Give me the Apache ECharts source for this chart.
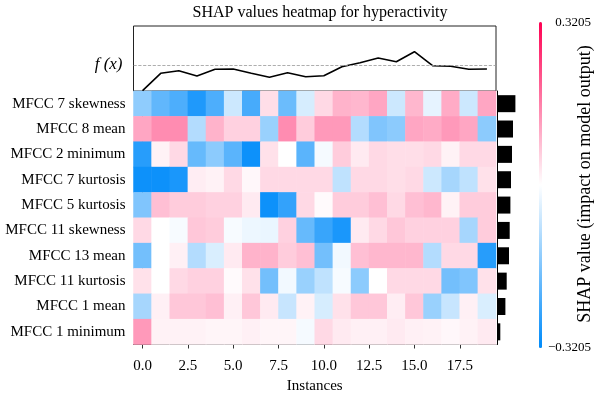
<!DOCTYPE html>
<html><head><meta charset="utf-8">
<script src="https://cdn.jsdelivr.net/npm/echarts@6/dist/echarts.min.js"></script>
<style>html,body{margin:0;padding:0;background:#fff}#c{width:600px;height:394px}</style>
</head><body><div id="c"></div>
<script>
const titleText = 'SHAP values heatmap for hyperactivity';
const features = ['MFCC 7 skewness','MFCC 8 mean','MFCC 2 minimum','MFCC 7 kurtosis','MFCC 5 kurtosis',
  'MFCC 11 skewness','MFCC 13 mean','MFCC 11 kurtosis','MFCC 1 mean','MFCC 1 minimum'];
const instances = [0,1,2,3,4,5,6,7,8,9,10,11,12,13,14,15,16,17,18,19];
const xTickValues = [0, 2.5, 5, 7.5, 10, 12.5, 15, 17.5];
const fxValues = [0.303,0.477,0.503,0.450,0.517,0.520,0.477,0.437,0.483,0.443,
  0.453,0.543,0.583,0.630,0.593,0.693,0.553,0.547,0.517,0.520];
const baseValue = 0.56;
const meanAbsShap = [0.184,0.160,0.150,0.140,0.134,0.127,0.120,0.097,0.084,0.033];
const shapMin = -0.3205, shapMax = 0.3205;
const shapValues = [
  [-0.141,-0.199,-0.224,-0.282,-0.224,-0.064,-0.231,0.042,-0.186,-0.051,0.048,0.096,0.090,0.112,-0.064,0.090,-0.032,0.106,-0.064,0.112],
  [0.112,0.144,0.144,-0.096,0.096,0.058,0.058,-0.128,0.144,0.064,0.128,0.128,-0.096,-0.160,-0.144,0.112,0.106,0.128,0.112,-0.144],
  [-0.272,0.016,0.048,-0.192,-0.144,-0.208,-0.304,0.038,0.0,-0.208,-0.013,0.064,0.026,0.048,0.042,0.042,0.048,0.016,0.048,0.048],
  [-0.304,-0.304,-0.288,0.022,0.016,0.048,0.010,0.048,0.048,0.048,0.048,-0.080,0.048,0.048,0.042,0.048,-0.064,-0.112,-0.080,0.038],
  [-0.160,0.080,0.064,0.064,0.058,0.058,0.026,-0.304,-0.256,0.048,0.006,0.064,0.064,0.080,0.048,0.080,0.090,0.016,0.064,0.064],
  [0.048,0.0,-0.010,0.071,0.064,-0.010,-0.022,-0.026,0.058,-0.192,-0.250,-0.288,0.026,0.048,0.071,0.058,0.058,0.058,-0.112,0.064],
  [-0.176,0.0,0.019,-0.096,-0.048,0.026,0.096,0.096,0.064,0.080,-0.176,-0.016,0.080,0.090,0.090,0.090,-0.096,0.048,0.048,-0.272],
  [0.038,0.0,0.048,0.058,0.058,0.006,0.038,-0.176,-0.016,-0.128,-0.080,-0.010,-0.144,0.0,0.048,0.048,0.048,-0.176,-0.160,0.038],
  [-0.112,0.019,0.071,0.071,0.080,0.019,0.071,0.026,-0.071,0.016,-0.051,0.038,0.071,0.071,0.022,0.071,-0.128,-0.071,0.019,-0.048],
  [0.128,0.016,0.016,0.016,0.013,0.013,0.019,0.013,0.013,-0.013,0.048,0.026,0.019,0.019,0.026,0.019,0.016,0.010,0.016,0.026]
];

const FONT = 'Liberation Serif';
const heatData = [];
shapValues.forEach((row, r) => row.forEach((v, c) => heatData.push([c, r, v])));
const lineData = fxValues.map((v, i) => [instances[i], v]);

const chart = echarts.init(document.getElementById('c'), null, {renderer: 'canvas'});
chart.setOption({
  animation: false,
  backgroundColor: '#fff',
  title: {
    text: titleText, left: 315, top: 0, textAlign: 'center',
    textStyle: {fontFamily: FONT, fontSize: 16, fontWeight: 'normal', color: '#000'}
  },
  grid: [
    {left: 133.5, top: 26, width: 362.5, height: 65, outerBoundsMode: 'none', containLabel: false,
      show: true, borderColor: '#222', borderWidth: 1, backgroundColor: 'transparent'},
    {left: 133.5, top: 91, width: 362.5, height: 253.5, outerBoundsMode: 'none', containLabel: false},
    {left: 497, top: 91, width: 33, height: 253.5, outerBoundsMode: 'none', containLabel: false}
  ],
  xAxis: [
    {gridIndex: 0, type: 'value', min: -0.5, max: 19.5, show: false},
    {gridIndex: 1, type: 'category', data: instances, show: false, position: 'top'},
    {gridIndex: 1, type: 'value', min: -0.5, max: 19.5, position: 'bottom',
      name: 'Instances', nameLocation: 'middle', nameGap: 32,
      nameTextStyle: {fontFamily: FONT, fontSize: 15, color: '#000'},
      axisLine: {show: true, lineStyle: {color: '#444', width: 1}},
      axisTick: {show: true, length: 4, customValues: xTickValues, lineStyle: {color: '#333'}},
      axisLabel: {customValues: xTickValues, formatter: v => v.toFixed(1), margin: 14,
        fontFamily: FONT, fontSize: 15, color: '#000'},
      splitLine: {show: false}},
    {gridIndex: 2, type: 'value', min: 0, max: 0.33, show: false}
  ],
  yAxis: [
    {gridIndex: 0, type: 'value', min: 0.3, max: 0.95, show: false},
    {gridIndex: 1, type: 'category', data: features, inverse: true,
      axisLine: {show: true, lineStyle: {color: '#000', width: 1}},
      axisTick: {show: true, length: 5, alignWithLabel: true, lineStyle: {color: '#000'}},
      axisLabel: {margin: 8, fontFamily: FONT, fontSize: 15, color: '#000'},
      splitLine: {show: false}},
    {gridIndex: 2, type: 'category', data: features, inverse: true,
      axisLine: {show: true, lineStyle: {color: '#000', width: 1}},
      axisTick: {show: false}, axisLabel: {show: false}}
  ],
  visualMap: {
    type: 'continuous', seriesIndex: 1, min: shapMin, max: shapMax,
    orient: 'vertical', left: 539, top: 22, padding: 0,
    itemWidth: 3, itemHeight: 326, calculable: false, hoverLink: false,
    inRange: {color: ['#008bfa', '#ffffff', '#ff0052']},
    text: null
  },
  series: [
    {type: 'line', xAxisIndex: 0, yAxisIndex: 0, data: lineData, symbol: 'none',
      lineStyle: {color: '#000', width: 1.6}, silent: true,
      markLine: {silent: true, symbol: 'none',
        lineStyle: {type: 'dashed', color: '#999', width: 0.8},
        label: {show: true, position: 'start', formatter: 'f (x)', distance: 11,
          fontFamily: FONT, fontStyle: 'italic', fontSize: 17, color: '#000'},
        data: [{yAxis: baseValue}]}},
    {type: 'heatmap', xAxisIndex: 1, yAxisIndex: 1, data: heatData,
      itemStyle: {borderWidth: 0}, emphasis: {disabled: true}},
    {type: 'bar', xAxisIndex: 3, yAxisIndex: 2, data: meanAbsShap, barWidth: 17,
      itemStyle: {color: '#000'}, silent: true}
  ],
  graphic: [
    {type: 'text', x: 591, y: 23, style: {text: '0.3205', align: 'right', verticalAlign: 'middle',
      font: '13px "Liberation Serif"', fill: '#000'}},
    {type: 'text', x: 591, y: 348, style: {text: '\u22120.3205', align: 'right', verticalAlign: 'middle',
      font: '13px "Liberation Serif"', fill: '#000'}},
    {type: 'text', x: 585, y: 184, rotation: Math.PI / 2,
      style: {text: 'SHAP value (impact on model output)', align: 'center', verticalAlign: 'middle',
        font: '18px "Liberation Serif"', fill: '#000'}}
  ]
});
</script>
</body></html>
